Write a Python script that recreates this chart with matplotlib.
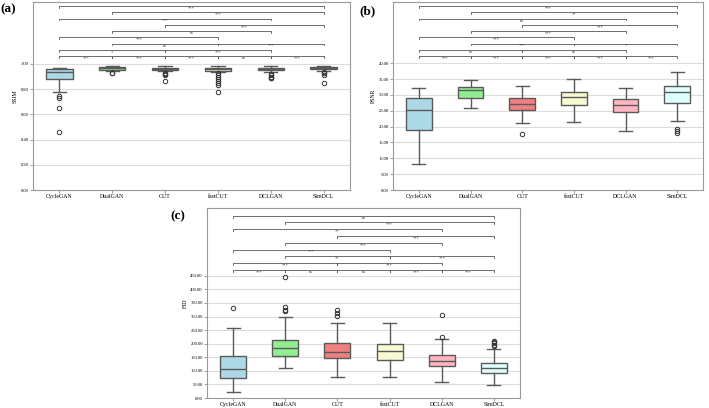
import matplotlib.pyplot as plt

plt.rcParams['font.family'] = ['Liberation Serif', 'DejaVu Serif']

# ------------------------------------------------------------------
# Dados
models = ['CycleGAN', 'DualGAN', 'CUT', 'fastCUT', 'DCLGAN', 'SimDCL']
colors = ['#add8e6', '#90ee90', '#f08080', '#fafad2', '#ffb6c1', '#e0ffff']

# SSIM
ssim_lo = [0.774, 0.944, 0.941, 0.940, 0.935, 0.945]
ssim_q1 = [0.880, 0.955, 0.950, 0.946, 0.950, 0.958]
ssim_med = [0.940, 0.965, 0.958, 0.958, 0.960, 0.968]
ssim_q3 = [0.957, 0.976, 0.965, 0.967, 0.968, 0.975]
ssim_hi = [0.970, 0.984, 0.982, 0.982, 0.982, 0.985]
ssim_fliers = [[0.746, 0.733, 0.650, 0.458],
               [0.930, 0.926],
               [0.930, 0.922, 0.915, 0.864],
               [0.929, 0.912, 0.899, 0.880, 0.867, 0.848, 0.832, 0.780],
               [0.920, 0.910, 0.900, 0.890, 0.885],
               [0.935, 0.925, 0.915, 0.850]]

# PSNR
psnr_lo = [8.2, 25.9, 21.3, 21.6, 18.5, 21.8]
psnr_q1 = [18.8, 28.9, 25.2, 26.8, 24.6, 27.6]
psnr_med = [25.3, 31.6, 27.2, 29.4, 26.8, 30.8]
psnr_q3 = [29.1, 32.5, 28.9, 31.0, 28.8, 32.7]
psnr_hi = [32.1, 34.7, 32.8, 35.0, 32.2, 37.1]
psnr_fliers = [[], [], [17.8], [], [], [19.2, 18.5, 17.9]]

# FID
fid_lo = [21, 110, 79, 76, 58, 48]
fid_q1 = [74, 154, 149, 140, 119, 91]
fid_med = [106, 183, 169, 173, 137, 110]
fid_q3 = [155, 215, 204, 198, 159, 128]
fid_hi = [257, 300, 278, 278, 219, 180]
fid_fliers = [[332],
              [447, 334, 325, 321],
              [325, 315, 303],
              [],
              [306, 224],
              [210, 207, 202, 196, 192]]

# Pares comparados, por nivel (de baixo para cima)
pair_rows = [
    [(0, 1), (1, 2), (2, 3), (3, 4), (4, 5)],
    [(0, 2), (2, 4)],
    [(1, 3), (3, 5)],
    [(0, 3)],
    [(1, 4)],
    [(2, 5)],
    [(0, 4)],
    [(1, 5)],
    [(0, 5)],
]
ssim_sig = [['***', '***', '***', 'ns', '***'], ['*', '***'], ['ns', '***'],
            ['***'], ['ns'], ['***'], ['***'], ['***'], ['***']]
psnr_sig = [['***', '***', '***', '***', '***'], ['ns', 'ns'], ['***', '*'],
            ['***'], ['***'], ['***'], ['ns'], ['**'], ['***']]
fid_sig = [['***', 'ns', 'ns', '***', '***'], ['***', '***'], ['**', '***'],
           ['***'], ['***'], ['***'], ['**'], ['***'], ['ns']]

# ------------------------------------------------------------------
# Funcao de desenho de um painel

def painel(ax, lo, q1, med, q3, hi, fliers, sig, ylab, yticks, fmt, ytop, base, step):
    stats = []
    for i in range(len(models)):
        stats.append(dict(whislo=lo[i], q1=q1[i], med=med[i], q3=q3[i],
                          whishi=hi[i], fliers=fliers[i]))
    edge = '#5a5a5a'
    bp = ax.bxp(stats, positions=range(len(models)), widths=0.5, capwidths=0.25,
                patch_artist=True,
                boxprops=dict(edgecolor=edge, linewidth=1.0),
                medianprops=dict(color=edge, linewidth=1.0),
                whiskerprops=dict(color=edge, linewidth=1.0),
                capprops=dict(color=edge, linewidth=1.0),
                flierprops=dict(marker='o', markersize=3.2, markerfacecolor='none',
                                markeredgecolor='#333333', markeredgewidth=0.7))
    for patch, c in zip(bp['boxes'], colors):
        patch.set_facecolor(c)

    # Colchetes de significancia
    tick = step * 0.3
    for r, row in enumerate(pair_rows):
        y = base + r * step
        for (a, b), s in zip(row, sig[r]):
            ax.plot([a, a, b, b], [y - tick, y, y, y - tick], color='#555555',
                    lw=0.6, clip_on=False)
            ax.text((a + b) / 2, y - step * 0.05, s, ha='center', va='top',
                    fontsize=3.2, color='#333333')

    ax.set_xlim(-0.5, len(models) - 0.5)
    ax.set_ylim(0, ytop)
    ax.set_yticks(yticks)
    ax.set_yticklabels([fmt % v for v in yticks])
    ax.set_xticks(range(len(models)))
    ax.set_xticklabels(models)
    ax.set_ylabel(ylab, fontsize=4.2, labelpad=2)
    ax.yaxis.grid(True, color='#dddddd', lw=0.8)
    ax.set_axisbelow(True)
    ax.tick_params(axis='y', labelsize=3.3, length=2, width=0.5, color='#777777', pad=1)
    ax.tick_params(axis='x', labelsize=4.2, length=2, width=0.5, color='#777777', pad=1)
    for sp in ax.spines.values():
        sp.set_color('#999999')
        sp.set_linewidth(0.8)


fig = plt.figure(figsize=(7.09, 4.08), dpi=100)

ax1 = fig.add_axes([33 / 709, 1 - 190 / 408, 317 / 709, 188 / 408])
painel(ax1, ssim_lo, ssim_q1, ssim_med, ssim_q3, ssim_hi, ssim_fliers, ssim_sig,
       'SSIM', [0.0, 0.2, 0.4, 0.6, 0.8, 1.0], '%.2f', 1.492, 1.063, 0.0496)

ax2 = fig.add_axes([393 / 709, 1 - 190 / 408, 310 / 709, 188 / 408])
painel(ax2, psnr_lo, psnr_q1, psnr_med, psnr_q3, psnr_hi, psnr_fliers, psnr_sig,
       'PSNR', [0, 5, 10, 15, 20, 25, 30, 35, 40], '%.2f', 59.35, 42.3, 1.97)

ax3 = fig.add_axes([207 / 709, 1 - 398 / 408, 313 / 709, 190 / 408])
painel(ax3, fid_lo, fid_q1, fid_med, fid_q3, fid_hi, fid_fliers, fid_sig,
       'FID', list(range(0, 451, 50)), '%.2f', 700, 472, 25)

fig.text(8 / 709, 1 - 9 / 408, '(a)', fontsize=9.5, fontweight='bold', ha='center', va='center')
fig.text(367 / 709, 1 - 11 / 408, '(b)', fontsize=9.5, fontweight='bold', ha='center', va='center')
fig.text(178 / 709, 1 - 216 / 408, '(c)', fontsize=9.5, fontweight='bold', ha='center', va='center')

fig.savefig('out.png', dpi=100)
